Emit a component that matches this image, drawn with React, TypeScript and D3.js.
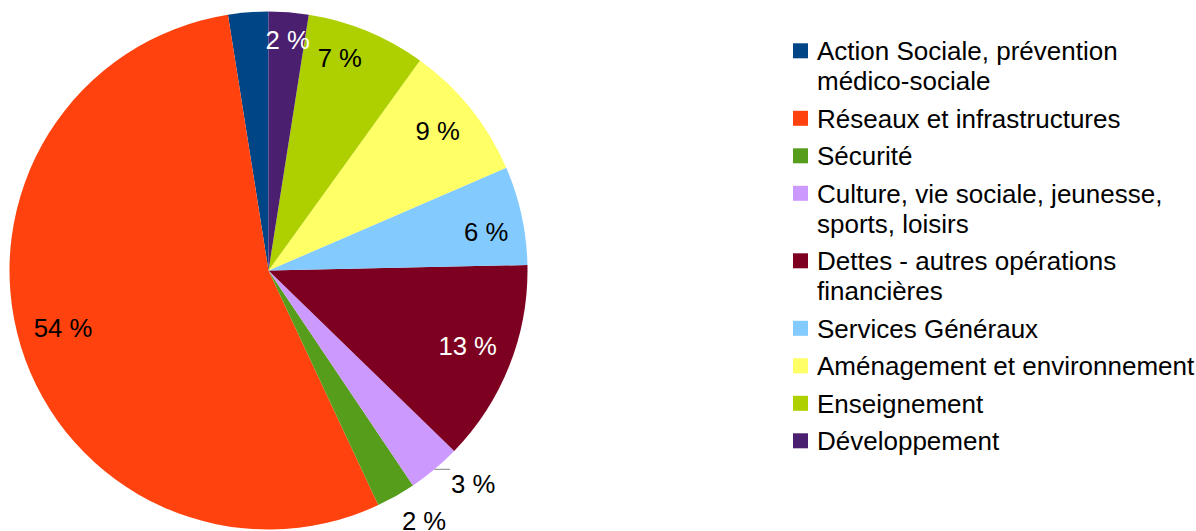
import React, { useMemo } from "react";
import * as d3 from "d3";

const categories = [
  "Action Sociale, prévention médico-sociale",
  "Réseaux et infrastructures",
  "Sécurité",
  "Culture, vie sociale, jeunesse, sports, loisirs",
  "Dettes - autres opérations financières",
  "Services Généraux",
  "Aménagement et environnement",
  "Enseignement",
  "Développement",
];
const values = [2.5, 54.4, 2.45, 3.3, 12.6, 6.15, 8.55, 7.45, 2.48];
const colors = ["#004586", "#ff420e", "#579d1c", "#cc99ff", "#7e0021", "#83caff", "#ffff66", "#aecf00", "#4b1f6f"];
// how each slice's value label is placed
const labelModes = ["none", "inside", "outside", "leader", "inside", "inside", "inside", "inside", "inside"];

const W = 1196;
const H = 531;
const FONT = "'Liberation Sans', Arial, sans-serif";
const FS = 25.7;
const LFS = 26;
const ASC = 0.905 * FS;
const DESC = 0.212 * FS;

function luminance(c: string) {
  const rgb = d3.rgb(c);
  const f = (v: number) => {
    const s = v / 255;
    return s <= 0.03928 ? s / 12.92 : Math.pow((s + 0.055) / 1.055, 2.4);
  };
  return 0.2126 * f(rgb.r) + 0.7152 * f(rgb.g) + 0.0722 * f(rgb.b);
}

function wrap(text: string, maxW: number): string[] {
  const canvas = document.createElement("canvas");
  const ctx = canvas.getContext("2d")!;
  ctx.font = `${LFS}px ${FONT}`;
  const words = text.split(" ");
  const lines: string[] = [];
  let cur = "";
  for (const w of words) {
    const t = cur ? cur + " " + w : w;
    if (cur && ctx.measureText(t).width > maxW) {
      lines.push(cur);
      cur = w;
    } else cur = t;
  }
  if (cur) lines.push(cur);
  return lines;
}

export default function App() {
  const cx = 268.5;
  const cy = 270.5;
  const r = 259;

  const arcs = useMemo(
    () =>
      d3
        .pie<number>()
        .sort(null)
        .value((d) => d)
        .startAngle(0)
        .endAngle(-2 * Math.PI)(values),
    []
  );
  const arcGen = d3.arc<d3.PieArcDatum<number>>().innerRadius(0).outerRadius(r);
  const total = d3.sum(values);
  const tol = Math.sin((5 * Math.PI) / 180);

  const labels = arcs.map((a, i) => {
    const mode = labelModes[i];
    if (mode === "none") return null;
    const text = `${Math.round((a.value / total) * 100)} %`;
    const mid = (a.startAngle + a.endAngle) / 2;
    const ux = Math.sin(mid);
    const uy = -Math.cos(mid);
    let px: number, py: number, ax: number, ay: number;
    let leader: [number, number, number, number] | null = null;
    const inside = mode === "inside";
    let fill = "#000";
    if (inside) {
      const R = r * 0.948;
      px = cx + R * ux;
      py = cy + R * uy;
      ax = Math.abs(ux) < tol ? 0.5 : ux > 0 ? 1 : 0;
      ay = Math.abs(uy) < tol ? 0.5 : uy < 0 ? 0 : 1;
      if (luminance(colors[i]) < 0.18) fill = "#fff";
    } else if (mode === "outside") {
      const R = r + 12;
      px = cx + R * ux;
      py = cy + R * uy;
      ax = ux > 0 ? 0 : 1;
      ay = uy > 0 ? 0 : 1;
    } else {
      const ex = cx + r * ux;
      const ey = cy + r * uy;
      const dir = ux > 0 ? 1 : -1;
      leader = [ex, ey, ex + dir * 15.6, ey];
      px = ex + dir * 16.6;
      py = ey;
      ax = dir > 0 ? 0 : 1;
      ay = 0;
    }
    const anchor = ax === 0 ? "start" : ax === 1 ? "end" : "middle";
    const baseline = py + ASC - ay * (ASC + DESC);
    return { i, text, x: px, y: baseline, anchor, fill, leader };
  });

  // legend layout
  const legendX = 793;
  const textX = 817;
  const lineH = 30;
  let top = 43.3;
  const legend = categories.map((c, i) => {
    const lines = wrap(c, 380);
    const item = { i, lines, top };
    top += 37.5 + lineH * (lines.length - 1);
    return item;
  });

  return (
    <svg
      width={W}
      height={H}
      style={{ position: "absolute", left: 0, top: 0, background: "#fff" }}
      fontFamily={FONT}
    >
      <rect width={W} height={H} fill="#fff" />
      <g transform={`translate(${cx},${cy})`}>
        {arcs.map((a, i) => (
          <path key={i} d={arcGen(a) || ""} fill={colors[i]} />
        ))}
      </g>
      {labels.map((l) =>
        l ? (
          <g key={l.i}>
            {l.leader && (
              <line
                x1={l.leader[0]}
                y1={l.leader[1]}
                x2={l.leader[2]}
                y2={l.leader[3]}
                stroke="#808080"
                strokeWidth={1}
              />
            )}
            <text x={l.x} y={l.y} fontSize={FS} textAnchor={l.anchor} fill={l.fill}>
              {l.text}
            </text>
          </g>
        ) : null
      )}
      {legend.map((item) => (
        <g key={item.i}>
          <rect x={legendX} y={item.top} width={15} height={15} fill={colors[item.i]} />
          {item.lines.map((ln, k) => (
            <text key={k} x={textX} y={item.top + 17 + k * lineH} fontSize={LFS} fill="#000">
              {ln}
            </text>
          ))}
        </g>
      ))}
    </svg>
  );
}
